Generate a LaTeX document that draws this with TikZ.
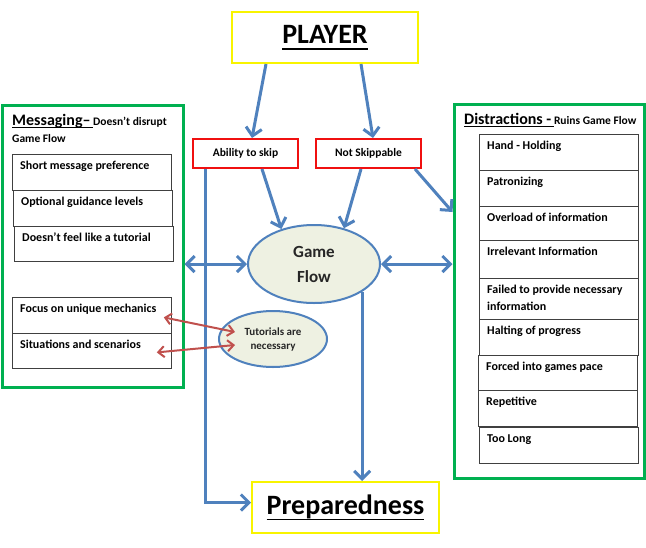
\documentclass[tikz,border=0pt]{standalone}
\usepackage{fontspec}
\setmainfont{Carlito}
\usetikzlibrary{arrows.meta,shapes.geometric}

\definecolor{flowblue}{HTML}{4F81BD}
\definecolor{linkred}{HTML}{C0504D}
\definecolor{boxgreen}{HTML}{00B050}
\definecolor{boxred}{HTML}{F01010}
\definecolor{boxyellow}{HTML}{F8F400}
\definecolor{ellfill}{HTML}{EEF1E2}

% thick underline: rule thickness, gap, text
\newcommand\thickul[3]{\vtop{\hbox{\raisebox{0pt}[\height][0pt]{#3}}\kern#2\hrule height #1}}

\tikzset{
    headbox/.style={draw=boxyellow, line width=2pt, inner sep=0pt, font=\bfseries\fontsize{28}{30}\selectfont},
    choicebox/.style={draw=boxred, line width=2pt, inner sep=0pt, minimum width=105pt, minimum height=29pt, font=\bfseries\fontsize{11.5}{13}\selectfont},
    groupbox/.style={draw=boxgreen, line width=3pt, inner sep=0pt},
    itembox/.style={draw=black!75, line width=0.8pt, inner sep=0pt, minimum width=159pt, anchor=north west},
    itemtext/.style={inner sep=0pt, anchor=base west, font=\bfseries\fontsize{12}{17}\selectfont},
    flowell/.style={ellipse, draw=flowblue, line width=2pt, fill=ellfill, inner sep=0pt, align=center, text=black!85},
    flow/.style={line width=3pt, flowblue, -{Straight Barb[length=8pt,width=16pt]}},
    flowboth/.style={line width=3pt, flowblue, {Straight Barb[length=8pt,width=16pt]}-{Straight Barb[length=8pt,width=16pt]}},
    link/.style={line width=2pt, linkred, {Straight Barb[length=6pt,width=11pt]}-{Straight Barb[length=6pt,width=11pt]}},
}

\begin{document}
\begin{tikzpicture}[x=1pt, y=-1pt]
    \fill[white] (0,0) rectangle (646,547);
    \useasboundingbox (0,0) rectangle (646,547);

    % Top and bottom
    \node[headbox, minimum width=186pt, minimum height=51pt] (player) at (325,37.5) {\thickul{2pt}{5pt}{PLAYER}};
    \node[headbox, minimum width=187pt, minimum height=51pt, font=\bfseries\fontsize{28}{30}\selectfont] (prep) at (345.5,507.5) {\thickul{1.8pt}{4.5pt}{Preparedness}};

    % Choices
    \node[choicebox] (skip) at (245.5,153.5) {Ability to skip};
    \node[choicebox] (noskip) at (368.5,153.5) {Not Skippable};

    % Ellipses
    \node[flowell, minimum width=132pt, minimum height=78pt, font=\bfseries\fontsize{17}{25}\selectfont] (game) at (314,264) {Game\\Flow};
    \node[flowell, minimum width=108pt, minimum height=56pt, font=\bfseries\fontsize{11}{14}\selectfont] (tut) at (273,339) {Tutorials are\\necessary};

    % Messaging (left)
    \node[groupbox, minimum width=181pt, minimum height=282pt] (msg) at (92.5,246) {};
    \node[inner sep=0pt, anchor=base west, font=\bfseries] (msgtitle) at (12,125)
        {{\fontsize{16}{18}\selectfont\thickul{0.8pt}{1.5pt}{Messaging–\,}}{\fontsize{11.5}{13}\selectfont Doesn’t disrupt}};
    \node[inner sep=0pt, anchor=base west, font=\bfseries\fontsize{11.5}{13}\selectfont] (msgsub) at (12,142) {Game Flow};
    \foreach \n/\x/\y/\h/\t in {m1/12/154/36/{Short message preference},
                                m2/13/190/36/{Optional guidance levels},
                                m3/14/226/35/{Doesn’t feel like a tutorial},
                                m4/12/297/36/{Focus on unique mechanics},
                                m5/12/333/35/{Situations and scenarios}} {
        \node[itembox, minimum height=\h pt] (\n) at (\x,\y) {};
        \node[itemtext] (\n-t) at ([xshift=8pt,yshift=-15pt]\n.north west) {\t};
    }

    % Distractions (right)
    \node[groupbox, minimum width=190pt, minimum height=374pt] (distr) at (549,291) {};
    \node[inner sep=0pt, anchor=base west, font=\bfseries] (distrtitle) at (464,124)
        {{\fontsize{16}{18}\selectfont\thickul{0.8pt}{1.5pt}{Distractions -\,}}{\fontsize{11.5}{13}\selectfont Ruins Game Flow}};
    \foreach \n/\x/\y/\h/\t in {d1/479/134/36/{Hand - Holding},
                                d2/479/170/36/{Patronizing},
                                d3/479/206/34/{Overload of information},
                                d4/479/240/38/{Irrelevant Information},
                                d5/479/278/41/{\vtop{\hbox{Failed to provide necessary}\hbox{information}}},
                                d6/479/319/36/{Halting of progress},
                                d7/478/355/35/{Forced into games pace},
                                d8/478/390/36/{Repetitive},
                                d9/479/427/36/{Too Long}} {
        \node[itembox, minimum height=\h pt] (\n) at (\x,\y) {};
        \node[itemtext] (\n-t) at ([xshift=8pt,yshift=-15pt]\n.north west) {\t};
    }

    % Blue arrows
    \draw[flow] ([xshift=-59pt]player.south) -- ([xshift=6.5pt]skip.north);
    \draw[flow] ([xshift=36pt]player.south) -- ([xshift=4.5pt]noskip.north);
    \draw[flow] ([xshift=16.5pt]skip.south) -- (game.133);
    \draw[flow] ([xshift=-7.5pt]noskip.south) -- (game.50);
    \draw[flow] ([xshift=46.5pt]noskip.south) -- ([yshift=79pt]distr.west);
    \draw[flowboth] (game.west -| msg.east) -- (game.west);
    \draw[flowboth] (game.east) -- (game.east -| distr.west);
    \draw[flow] ([xshift=-40.5pt]skip.south) |- ([yshift=5pt]prep.west);
    \draw[flow] (game.-30) -- (game.-30 |- prep.north);

    % Red arrows
    \draw[link] ([xshift=-8pt,yshift=-2pt]m4.east) -- ([xshift=-38pt,yshift=7pt]tut.center);
    \draw[link] ([xshift=-15pt,yshift=-1.5pt]m5.east) -- ([xshift=-38pt,yshift=-6pt]tut.center);
\end{tikzpicture}
\end{document}
